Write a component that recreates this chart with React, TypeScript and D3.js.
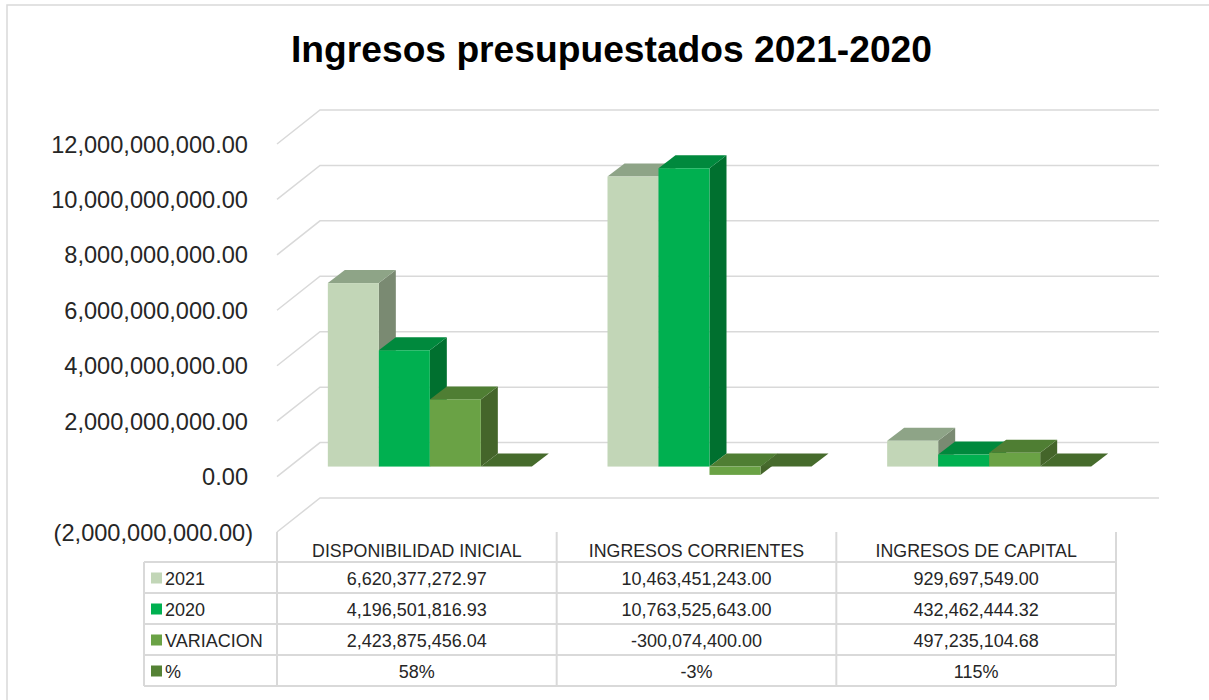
import React from "react";
import * as d3 from "d3";

const categories = ["DISPONIBILIDAD INICIAL", "INGRESOS CORRIENTES", "INGRESOS DE CAPITAL"];
const seriesNames = ["2021", "2020", "VARIACION", "%"];
const values2021 = [6620377272.97, 10463451243.0, 929697549.0];
const values2020 = [4196501816.93, 10763525643.0, 432462444.32];
const valuesVariacion = [2423875456.04, -300074400.0, 497235104.68];
const valuesPct = [0.58, -0.03, 1.15];
const yTicks = [-2e9, 0, 2e9, 4e9, 6e9, 8e9, 10e9, 12e9];
const titleText = "Ingresos presupuestados 2021-2020";

const seriesValues = [values2021, values2020, valuesVariacion, valuesPct];
const seriesColors = [
  { front: "#C2D6B7", top: "#8EA487", side: "#7A8A72", legend: "#C2D6B7" },
  { front: "#00B050", top: "#00893D", side: "#00702F", legend: "#00B050" },
  { front: "#6AA245", top: "#4F7E33", side: "#44652A", legend: "#6AA245" },
  { front: "#548235", top: "#466B2C", side: "#43622A", legend: "#548235" },
];

const locale = d3.formatLocale({
  decimal: ".",
  thousands: ",",
  grouping: [3],
  currency: ["", ""],
  minus: "-",
});
const fmtMoney = locale.format(",.2f");
const fmtPct = locale.format(".0%");
const fmtAxis = (v: number) => (v < 0 ? `(${fmtMoney(-v)})` : fmtMoney(v));

const W = 1209;
const H = 700;
const FONT = "'Liberation Sans', Arial, sans-serif";
const GRID = "#D9D9D9";
const TEXT = "#262626";

export default function App() {
  const frontLeft = 277;
  const frontRight = 1116;
  const wall = { dx: 43, dy: -34 };
  const barOff = { dx: 13, dy: -10 };
  const barDep = { dx: 17, dy: -13 };

  const y = d3.scaleLinear().domain([-2e9, 12e9]).range([532, 144]);
  const xCat = d3.scaleBand<string>().domain(categories).range([frontLeft, frontRight]);
  const groupW = 204;
  const xSer = d3.scaleBand<string>().domain(seriesNames).range([0, groupW]);
  const bw = xSer.bandwidth();

  const tableTop = y(-2e9);
  const rowTop = 562;
  const rowH = 31;
  const legendLeft = 144;

  const bars: React.ReactNode[] = [];
  categories.forEach((cat, ci) => {
    seriesNames.forEach((s, si) => {
      const v = seriesValues[si][ci];
      const xl = (xCat(cat) as number) + (xCat.bandwidth() - groupW) / 2 + (xSer(s) as number) + barOff.dx;
      const xr = xl + bw;
      const y0 = y(0) + barOff.dy;
      const yv = y(v) + barOff.dy;
      const top = Math.min(y0, yv);
      const bot = Math.max(y0, yv);
      const c = seriesColors[si];
      bars.push(
        <g key={`${ci}-${si}`}>
          <polygon
            points={`${xr},${top} ${xr + barDep.dx},${top + barDep.dy} ${xr + barDep.dx},${bot + barDep.dy} ${xr},${bot}`}
            fill={c.side}
          />
          <polygon
            points={`${xl},${top} ${xl + barDep.dx},${top + barDep.dy} ${xr + barDep.dx},${top + barDep.dy} ${xr},${top}`}
            fill={c.top}
          />
          <rect x={xl} y={top} width={bw} height={bot - top} fill={c.front} />
        </g>
      );
    });
  });

  return (
    <svg
      width={W}
      height={H}
      viewBox={`0 0 ${W} ${H}`}
      style={{ position: "absolute", left: 0, top: 0, background: "#fff" }}
    >
      <rect x={7} y={5} width={1205} height={700} fill="#fff" stroke={GRID} strokeWidth={1.5} />
      <text
        x={611.5}
        y={62}
        textAnchor="middle"
        fontFamily={FONT}
        fontWeight="bold"
        fontSize={36}
        fill="#000"
        textLength={641}
        lengthAdjust="spacingAndGlyphs"
      >
        {titleText}
      </text>

      {yTicks.map((t) => (
        <polyline
          key={t}
          points={`${frontLeft},${y(t)} ${frontLeft + wall.dx},${y(t) + wall.dy} ${frontRight + wall.dx},${y(t) + wall.dy}`}
          fill="none"
          stroke={GRID}
          strokeWidth={1.5}
        />
      ))}

      {yTicks.map((t) => (
        <text
          key={`l${t}`}
          x={t < 0 ? 253 : 248}
          y={y(t) + 8.5}
          textAnchor="end"
          fontFamily={FONT}
          fontSize={23.6}
          fill={TEXT}
        >
          {fmtAxis(t)}
        </text>
      ))}

      {bars}

      <g stroke={GRID} strokeWidth={2}>
        {[frontLeft, ...categories.map((c) => (xCat(c) as number) + xCat.bandwidth())].map((x, i) => (
          <line key={`v${i}`} x1={x} x2={x} y1={tableTop} y2={rowTop + rowH * 4} />
        ))}
        <line x1={legendLeft} x2={legendLeft} y1={rowTop} y2={rowTop + rowH * 4} />
        {d3.range(5).map((i) => (
          <line key={`h${i}`} x1={legendLeft} x2={frontRight} y1={rowTop + rowH * i} y2={rowTop + rowH * i} />
        ))}
      </g>
      {categories.map((c) => (
        <text
          key={`h-${c}`}
          x={(xCat(c) as number) + xCat.bandwidth() / 2}
          y={557}
          textAnchor="middle"
          fontFamily={FONT}
          fontSize={17.8}
          fill={TEXT}
        >
          {c}
        </text>
      ))}
      {seriesNames.map((s, si) => {
        const cy = rowTop + rowH * si + rowH / 2;
        return (
          <g key={`row-${s}`}>
            <rect x={151} y={cy - 5} width={11} height={11} fill={seriesColors[si].legend} />
            <text x={165} y={cy + 7} fontFamily={FONT} fontSize={18} fill={TEXT}>
              {s}
            </text>
            {categories.map((c, ci) => (
              <text
                key={`${s}-${c}`}
                x={(xCat(c) as number) + xCat.bandwidth() / 2}
                y={cy + 7}
                textAnchor="middle"
                fontFamily={FONT}
                fontSize={18}
                fill={TEXT}
              >
                {si === 3 ? fmtPct(seriesValues[si][ci]) : fmtMoney(seriesValues[si][ci])}
              </text>
            ))}
          </g>
        );
      })}
    </svg>
  );
}
